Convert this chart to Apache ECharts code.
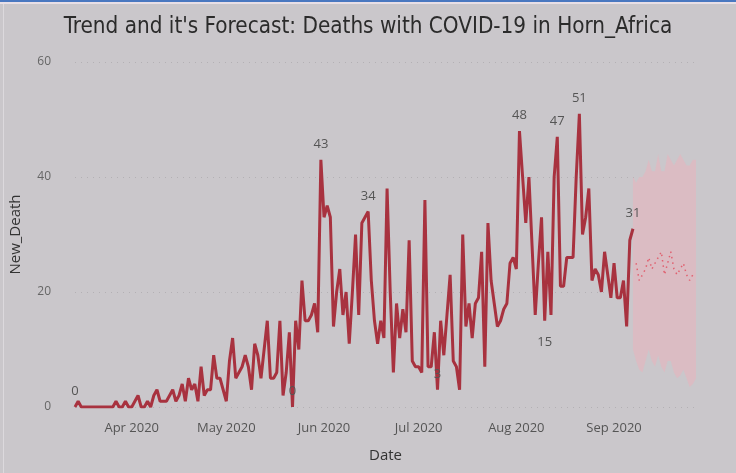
<!DOCTYPE html>
<html>
<head>
<meta charset="utf-8">
<script src="https://cdn.jsdelivr.net/npm/echarts@6/dist/echarts.min.js"></script>
<style>
html,body{margin:0;padding:0;background:#cbc8cc;}
#chart{width:736px;height:473px;}
</style>
</head>
<body>
<div id="chart"></div>
<script>
// first day of the series and number of days (actual + forecast)
const startDate = '2020-03-14';
const totalDays = 198;

// daily new deaths (actual), from 2020-03-14
const actualDeaths = [
  0,1,0,0,0,0,0,0,0,0,0,0,0,1,0,0,1,0,0,1,
  2,0,0,1,0,2,3,1,1,1,2,3,1,2,4,1,5,3,4,1,
  7,2,3,3,9,5,5,3,1,8,12,5,6,7,9,7,3,11,9,5,
  10,15,5,5,6,15,2,6,13,0,15,10,22,15,15,16,18,13,43,33,
  35,33,14,20,24,16,20,11,20,30,16,32,33,34,22,15,11,15,12,38,
  20,6,18,12,17,13,29,8,7,7,6,36,7,7,13,3,15,9,16,23,
  8,7,3,30,14,18,12,18,19,27,7,32,22,18,14,15,17,18,25,26,
  24,48,40,32,40,28,16,25,33,15,27,16,40,47,21,21,26,26,26,40,
  51,30,33,38,22,24,23,20,27,23,19,25,19,19,22,14,29,31
];

// forecast (starts the day after the last actual value)
const forecastValues = [25,22,23,24,26,24,25,26,27,23,25,27,24,23,24,25,23,22,23,23];
const forecastUpper  = [40,39,40,40,41,43,41,41,44,41,41,44,43,42,43,44,43,42,42,43,43];
const forecastLower  = [10,8,6.5,6,8,10,8,7,9,7,6,8,8,6,5,5.5,6.5,5,3.5,4,5];

// labelled points: day index -> position
const labelledPoints = {0:'top', 69:'top', 78:'top', 93:'top', 115:'top', 141:'top', 149:'bottom', 153:'top', 160:'top', 177:'top'};

const monthNames = ['Jan','Feb','Mar','Apr','May','Jun','Jul','Aug','Sep','Oct','Nov','Dec'];

// build category dates
const dates = [];
{
  const d0 = new Date(startDate + 'T00:00:00Z');
  for (let i = 0; i < totalDays; i++) {
    const d = new Date(d0.getTime() + i * 86400000);
    dates.push(d.toISOString().slice(0, 10));
  }
}

const actualData = actualDeaths.map((v, i) => {
  const pos = labelledPoints[i];
  if (pos !== undefined) {
    return {value: v, label: {show: true, position: pos, distance: pos === 'bottom' ? 15 : 9}};
  }
  return v;
});

const bandStart = actualDeaths.length - 1;
const lowerData = dates.map((_, i) => {
  const k = i - bandStart;
  return (k >= 0 && k < forecastLower.length) ? forecastLower[k] : '-';
});
const bandData = dates.map((_, i) => {
  const k = i - bandStart;
  return (k >= 0 && k < forecastUpper.length) ? +(forecastUpper[k] - forecastLower[k]).toFixed(2) : '-';
});
const fcData = dates.map((_, i) => {
  const k = i - actualDeaths.length;
  return (k >= 0 && k < forecastValues.length) ? forecastValues[k] : '-';
});

const chart = echarts.init(document.getElementById('chart'), null, {renderer: 'canvas'});
chart.setOption({
  backgroundColor: '#cac7cb',
  animation: false,
  title: {
    text: "Trend and it's Forecast: Deaths with COVID-19 in Horn_Africa",
    left: 'center',
    top: 11,
    textStyle: {fontFamily: 'DejaVu Sans Condensed', fontSize: 22.3, fontWeight: 'normal', color: '#2b2b2b'}
  },
  graphic: [
    {type: 'rect', shape: {x: 0, y: 0, width: 736, height: 2}, style: {fill: '#4a78c0'}},
    {type: 'rect', shape: {x: 0, y: 2, width: 736, height: 2}, style: {fill: '#e8dfe6'}},
    {type: 'rect', shape: {x: 3, y: 4, width: 1, height: 469}, style: {fill: '#dcd9dd'}}
  ],
  grid: {left: 72, right: 40, top: 62, bottom: 66, containLabel: false},
  xAxis: {
    type: 'category',
    data: dates,
    boundaryGap: false,
    name: 'Date',
    nameLocation: 'middle',
    nameGap: 41,
    nameTextStyle: {fontFamily: 'Open Sans', fontSize: 15, color: '#333'},
    axisLine: {show: false},
    axisTick: {show: false},
    axisLabel: {
      interval: (idx, val) => val.slice(8) === '01',
      formatter: (val) => monthNames[+val.slice(5, 7) - 1] + ' ' + val.slice(0, 4),
      fontFamily: 'Open Sans', fontSize: 13, color: '#555', margin: 15
    },
    splitLine: {show: false}
  },
  yAxis: {
    type: 'value',
    min: 0, max: 60, interval: 20,
    name: 'New_Death',
    nameLocation: 'middle',
    nameRotate: 90,
    nameGap: 52,
    nameTextStyle: {fontFamily: 'Open Sans', fontSize: 15, color: '#333'},
    axisLine: {show: false},
    axisTick: {show: false},
    axisLabel: {fontFamily: 'Open Sans', fontSize: 12, color: '#666', margin: 24},
    splitLine: {show: true, lineStyle: {color: '#b3b0b4', type: [1, 5], width: 1}}
  },
  series: [
    {
      name: 'lower', type: 'line', stack: 'band', data: lowerData,
      symbol: 'none', lineStyle: {opacity: 0}, silent: true, z: 1
    },
    {
      name: 'band', type: 'line', stack: 'band', data: bandData,
      symbol: 'none', lineStyle: {opacity: 0},
      areaStyle: {color: '#dbbcc3', opacity: 1}, silent: true, z: 1
    },
    {
      name: 'forecast', type: 'line', data: fcData, symbol: 'none',
      lineStyle: {color: '#e0606f', width: 1.5, type: [1.5, 4]}, z: 2
    },
    {
      name: 'New_Death', type: 'line', data: actualData,
      symbol: 'circle', symbolSize: 0, showSymbol: true, showAllSymbol: true,
      itemStyle: {color: '#a8323f'},
      lineStyle: {color: '#a8323f', width: 3},
      label: {show: false, fontFamily: 'Open Sans', fontSize: 13, color: '#555'},
      labelLayout: {hideOverlap: false},
      z: 3
    }
  ]
});
</script>
</body>
</html>
